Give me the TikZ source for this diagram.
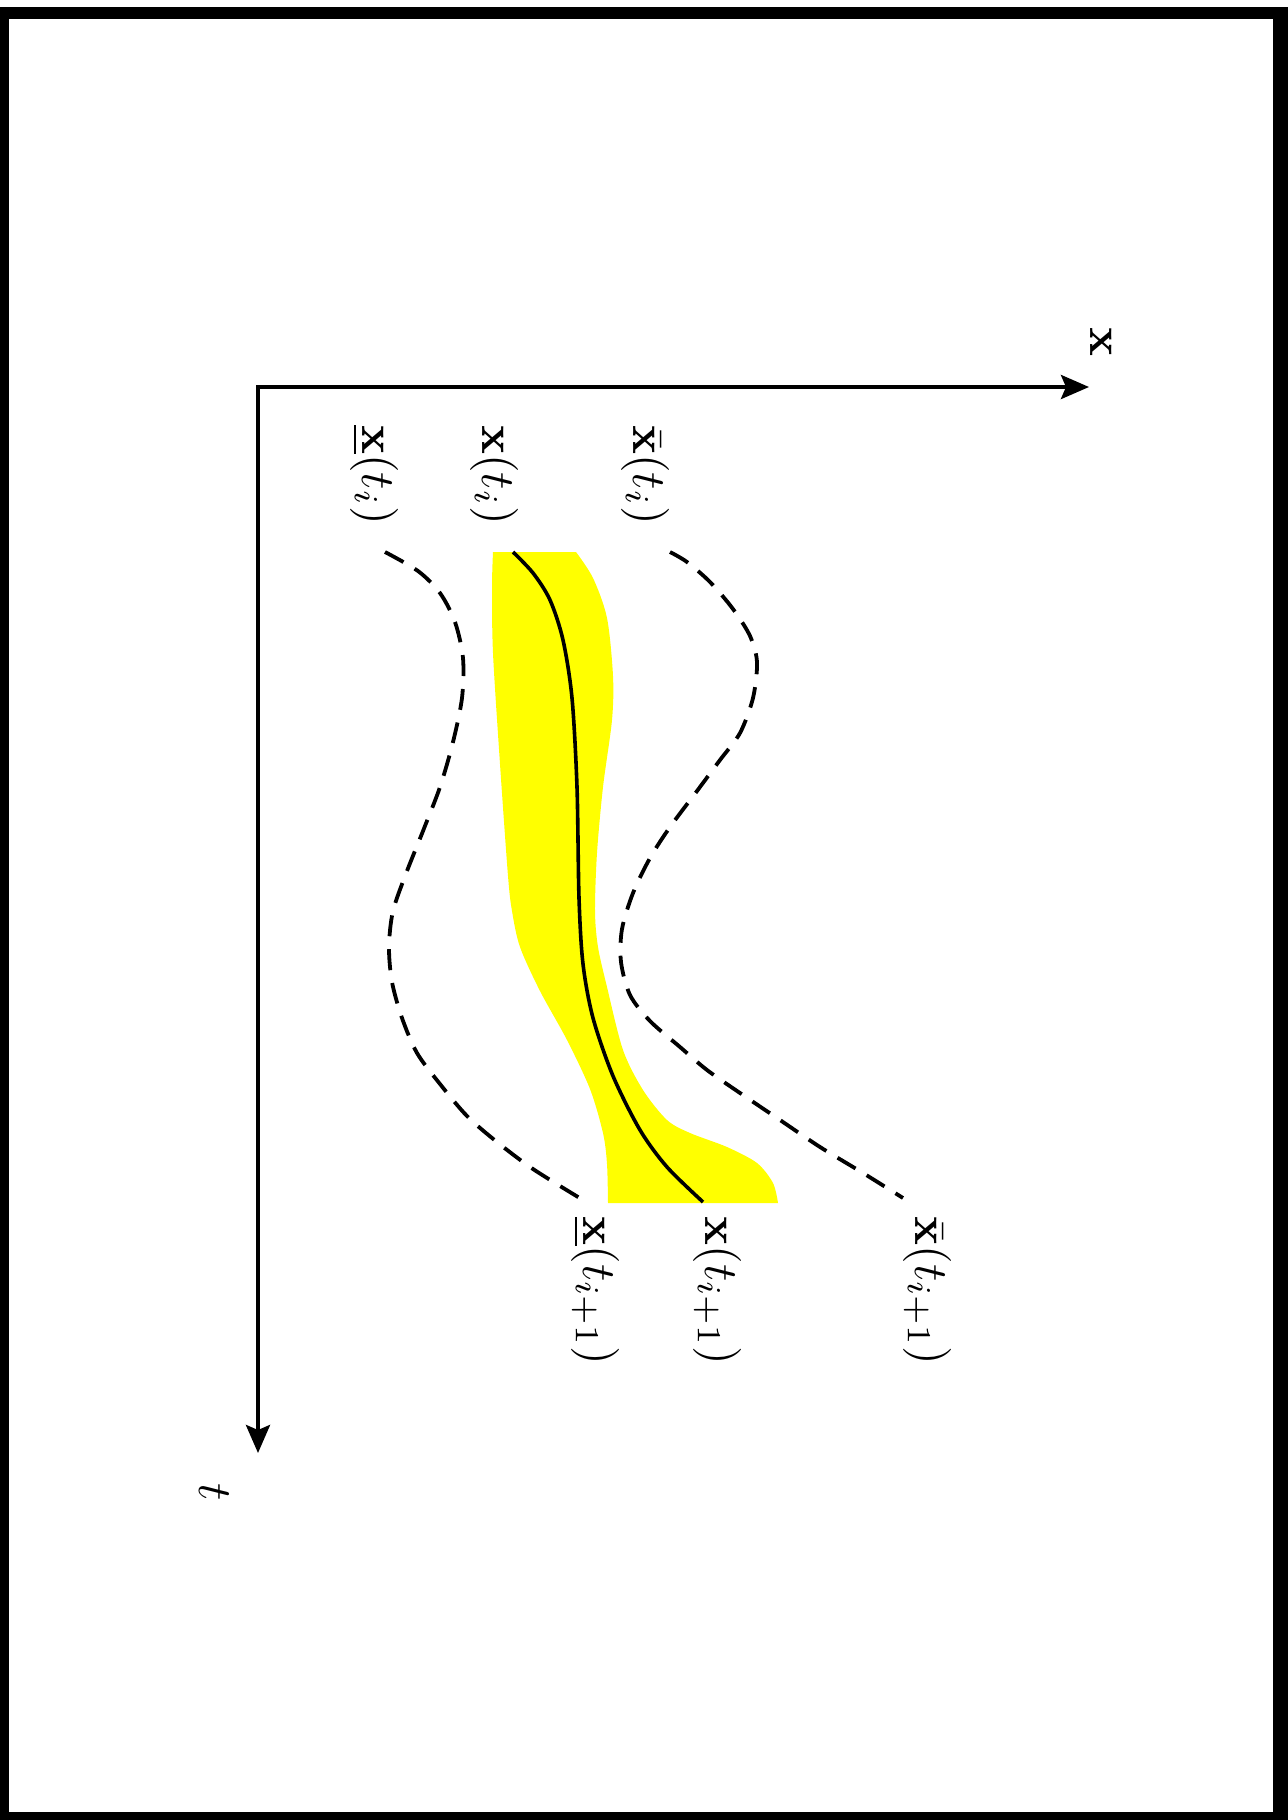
\documentclass[tikz,border=0pt]{standalone}
\usetikzlibrary{arrows.meta}
\definecolor{bandyellow}{RGB}{255,255,0}
\begin{document}
\begin{tikzpicture}[x=0.5pt,y=-0.5pt,
  lbl/.style={rotate=-90, anchor=base, inner sep=0pt, scale=2.4},
  dashcurve/.style={line width=1.9pt, dash pattern=on 10.5pt off 6.5pt},
  solidcurve/.style={line width=1.8pt},
  axisline/.style={line width=2pt, >={Stealth[length=14pt,width=12pt,inset=2.5pt]}}]
\useasboundingbox (0,0) rectangle (1288,1820);
% frame
\fill[black] (0,7) rectangle (1288,1820);
\fill[white] (9,19) rectangle (1273,1812);
% yellow band
\fill[bandyellow] plot[smooth, tension=0.5] coordinates {(493,552) (492,587) (493,653) (500,764) (508,876) (512,911) (520,947) (540,991) (567,1040) (590,1089) (603,1133) (607,1164) (608,1203)}
  -- plot[smooth, tension=0.5] coordinates {(778,1203) (773,1183) (757,1163) (727,1147) (690,1133) (667,1120) (643,1090) (623,1050) (607,987) (598,947) (595,911) (597,853) (603,787) (612,720) (613,676) (607,618) (593,578) (576,552)} -- cycle;
% curves
\draw[dashcurve] plot[smooth, tension=0.5] coordinates {(385,552) (418,571) (440,593) (455,622) (463,658) (462,698) (453,742) (440,787) (423,831) (407,871) (393,911) (389,947) (392,982) (402,1018) (417,1053) (440,1084) (467,1116) (497,1142) (533,1169) (583,1200)};
\draw[solidcurve] plot[smooth, tension=0.5] coordinates {(513,552) (533,573) (550,600) (563,640) (572,698) (577,787) (579,898) (583,964) (593,1018) (613,1076) (640,1130) (667,1167) (703,1202)};
\draw[dashcurve] plot[smooth, tension=0.5] coordinates {(670,552) (687,562) (710,582) (733,609) (750,636) (757,662) (753,698) (740,733) (720,760) (697,791) (670,827) (650,858) (633,893) (622,929) (621,962) (630,995) (650,1021) (680,1047) (707,1070) (740,1093) (780,1120) (820,1147) (863,1173) (903,1198)};
% axes
\coordinate (O) at (258,387);
\coordinate (xe) at (1089,387);
\coordinate (te) at (258,1453);
\draw[axisline, <->] (xe) -- (O) -- (te);
\node[lbl] (xl) at (1090,342) {$\mathbf{x}$};
\node[lbl] (tl) at (199,1492) {$t$};
% labels
\node[lbl] (lo1) at (362,475) {$\underline{\mathbf{x}}(t_i)$};
\node[lbl] (mid1) at (482,475) {$\mathbf{x}(t_i)$};
\node[lbl] (up1) at (633,475) {$\bar{\mathbf{x}}(t_i)$};
\node[lbl] (lo2) at (583,1291) {$\underline{\mathbf{x}}(t_{i+1})$};
\node[lbl] (mid2) at (705,1291) {$\mathbf{x}(t_{i+1})$};
\node[lbl] (up2) at (915,1291) {$\bar{\mathbf{x}}(t_{i+1})$};
\end{tikzpicture}
\end{document}
